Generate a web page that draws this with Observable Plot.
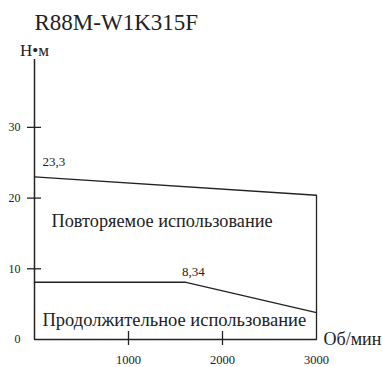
<!DOCTYPE html>
<html><head><meta charset="utf-8">
<script src="https://cdn.jsdelivr.net/npm/d3@7"></script>
<script src="https://cdn.jsdelivr.net/npm/@observablehq/plot@0.6"></script>
<style>
body{margin:0;background:#fff}
svg{display:block}
#chart svg text{font-family:"Liberation Serif","Times New Roman",serif !important;}
</style>
</head><body><div id="chart"></div>
<script>
const title = "R88M-W1K315F";
const yUnit = "Н•м";
const xUnit = "Об/мин";
const peakSpeed = [0, 3000, 3000];
const peakTorque = [23.0, 20.4, 0];
const ratedSpeed = [0, 1600, 3000];
const ratedTorque = [8.1, 8.1, 3.8];
const yTicks = [10, 20, 30];
const yTickLabels = [0, 10, 20, 30];
const xTicks = [1000, 2000];
const xTickLabels = [1000, 2000, 3000];
const peakValueLabel = "23,3";
const ratedValueLabel = "8,34";
const peakRegion = "Повторяемое использование";
const ratedRegion = "Продолжительное использование";

const peak = peakSpeed.map((s, i) => ({speed: s, torque: peakTorque[i]}));
const rated = ratedSpeed.map((s, i) => ({speed: s, torque: ratedTorque[i]}));
const yMax = 39.6;
const ink = "#222";
const T = (o) => ({fill: ink, fontFamily: "Liberation Serif", ...o});

const chart = Plot.plot({
  width: 383, height: 367,
  marginLeft: 34, marginRight: 67, marginTop: 59, marginBottom: 28,
  x: {domain: [0, 3000], axis: null},
  y: {domain: [0, yMax], axis: null},
  style: {color: ink, background: "#fff"},
  marks: [
    Plot.ruleX([0], {stroke: ink, strokeWidth: 1.5}),
    Plot.ruleY([0], {x1: 0, x2: 3000, stroke: ink, strokeWidth: 1.5}),
    Plot.ruleY(yTicks, {x1: 0, x2: 0, insetLeft: -7, insetRight: -7, stroke: ink, strokeWidth: 1.3}),
    Plot.ruleX(xTicks, {y1: 0, y2: 0, insetTop: -8, insetBottom: -6, stroke: ink, strokeWidth: 1.3}),
    Plot.text(yTickLabels, T({x: 0, y: d => d, text: d => String(d), dx: -14, textAnchor: "end", fontSize: 12})),
    Plot.text(xTickLabels, T({x: d => d, y: 0, text: d => String(d), dy: 20, fontSize: 12.5})),
    Plot.text([yUnit], T({x: 0, y: yMax, text: d => d, dy: -9, fontSize: 17})),
    Plot.text([xUnit], T({x: 3000, y: 0, text: d => d, dx: 7, textAnchor: "start", fontSize: 18})),
    Plot.text([title], T({x: 0, y: yMax, text: d => d, dy: -37, textAnchor: "start", fontSize: 23})),
    Plot.line(peak, {x: "speed", y: "torque", stroke: ink, strokeWidth: 1.3}),
    Plot.line(rated, {x: "speed", y: "torque", stroke: ink, strokeWidth: 1.3}),
    Plot.text([peak[0]], T({x: "speed", y: "torque", text: () => peakValueLabel, dx: 8, dy: -15, textAnchor: "start", fontSize: 13})),
    Plot.text([rated[1]], T({x: "speed", y: "torque", text: () => ratedValueLabel, dx: -3, dy: -10, textAnchor: "start", fontSize: 13})),
    Plot.text([peakRegion], T({x: 0, y: 16.8, text: d => d, dx: 17, textAnchor: "start", fontSize: 18.3})),
    Plot.text([ratedRegion], T({x: 0, y: 2.7, text: d => d, dx: 8, textAnchor: "start", fontSize: 18.5}))
  ]
});
document.getElementById("chart").append(chart);
</script>
</body></html>
